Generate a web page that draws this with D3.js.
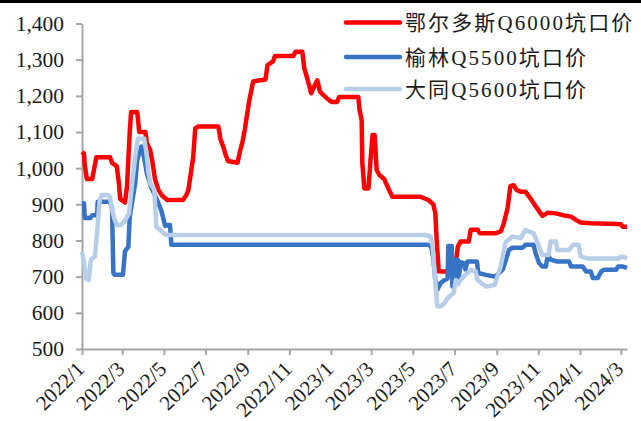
<!DOCTYPE html>
<html>
<head>
<meta charset="utf-8">
<script src="https://cdn.jsdelivr.net/npm/d3@7"></script>
<style>
body { margin: 0; background: #fff; }
svg text { font-family: "Liberation Serif", "Noto Sans CJK SC", serif; fill: #1a1a1a; }
</style>
</head>
<body>
<svg id="chart" width="641" height="421"></svg>
<script>
// 鄂尔多斯Q6000坑口价
var ordosDates = ["2022-01-01","2022-01-04","2022-01-05","2022-01-08","2022-01-16","2022-01-19","2022-01-22","2022-02-11","2022-02-14","2022-02-21","2022-02-24","2022-02-26","2022-03-05","2022-03-08","2022-03-12","2022-03-14","2022-03-23","2022-03-26","2022-04-04","2022-04-06","2022-04-11","2022-04-14","2022-04-18","2022-04-23","2022-04-28","2022-05-06","2022-05-29","2022-06-03","2022-06-06","2022-06-13","2022-06-16","2022-06-20","2022-07-20","2022-07-23","2022-07-27","2022-07-30","2022-08-03","2022-08-17","2022-08-21","2022-08-24","2022-08-28","2022-09-03","2022-09-09","2022-09-27","2022-09-30","2022-10-08","2022-10-11","2022-11-07","2022-11-10","2022-11-20","2022-11-23","2022-11-27","2022-12-03","2022-12-06","2022-12-12","2022-12-16","2022-12-25","2023-01-02","2023-01-10","2023-01-13","2023-02-10","2023-02-12","2023-02-15","2023-02-16","2023-02-19","2023-02-25","2023-02-28","2023-03-03","2023-03-06","2023-03-09","2023-03-13","2023-03-20","2023-03-26","2023-04-01","2023-05-12","2023-05-24","2023-05-31","2023-06-03","2023-06-05","2023-06-08","2023-06-21","2023-07-03","2023-07-06","2023-07-10","2023-07-22","2023-07-25","2023-08-04","2023-08-07","2023-08-30","2023-09-07","2023-09-11","2023-09-17","2023-09-21","2023-09-26","2023-09-30","2023-10-06","2023-10-13","2023-10-21","2023-10-28","2023-11-07","2023-11-15","2023-11-27","2023-12-07","2023-12-19","2023-12-26","2024-01-02","2024-01-17","2024-02-15","2024-03-01","2024-03-04","2024-03-10"];
var ordosPrices = [1045,1040,1010,970,970,1000,1030,1030,1015,1005,960,915,905,950,1100,1155,1155,1100,1100,1070,1050,1020,970,940,925,912,912,925,940,1030,1110,1115,1115,1080,1060,1040,1020,1015,1050,1070,1110,1185,1240,1245,1285,1295,1310,1310,1322,1322,1275,1250,1207,1220,1243,1211,1195,1183,1183,1197,1197,1160,1133,1014,944,944,1022,1092,1092,995,981,970,945,921,921,912,900,875,800,714,714,738,783,797,797,830,830,820,820,825,845,890,950,953,940,935,935,915,895,868,877,875,870,866,857,850,848,846,845,838,838];

// 榆林Q5500坑口价
var yulinDates = ["2022-01-01","2022-01-04","2022-01-05","2022-01-13","2022-01-16","2022-01-23","2022-01-24","2022-02-11","2022-02-14","2022-02-16","2022-02-18","2022-03-02","2022-03-05","2022-03-10","2022-03-12","2022-03-20","2022-03-23","2022-03-29","2022-04-02","2022-04-06","2022-04-12","2022-04-21","2022-04-27","2022-05-03","2022-05-07","2022-05-10","2022-05-12","2023-05-24","2023-05-28","2023-05-31","2023-06-03","2023-06-06","2023-06-11","2023-06-17","2023-06-21","2023-06-22","2023-06-27","2023-06-28","2023-07-01","2023-07-03","2023-07-06","2023-07-07","2023-07-10","2023-07-14","2023-07-17","2023-07-20","2023-08-03","2023-08-05","2023-08-16","2023-08-30","2023-09-10","2023-09-19","2023-09-24","2023-10-09","2023-10-13","2023-10-25","2023-10-28","2023-11-02","2023-11-07","2023-11-12","2023-11-15","2023-11-19","2023-11-29","2023-12-16","2023-12-19","2024-01-05","2024-01-10","2024-01-17","2024-01-20","2024-01-27","2024-02-01","2024-02-05","2024-02-23","2024-02-26","2024-03-04","2024-03-10"];
var yulinPrices = [903,903,862,862,870,870,907,907,890,710,705,705,770,783,866,958,1023,1060,1030,987,949,912,885,840,843,843,788,788,783,750,691,664,683,691,695,785,785,673,673,747,747,690,740,738,720,742,742,710,705,700,720,774,780,780,788,788,765,738,728,728,760,747,742,742,728,728,714,714,696,696,714,719,719,728,728,724];

// 大同Q5600坑口价
var datongDates = ["2022-01-01","2022-01-04","2022-01-07","2022-01-11","2022-01-14","2022-01-20","2022-01-23","2022-01-27","2022-01-30","2022-02-08","2022-02-11","2022-02-14","2022-02-18","2022-02-21","2022-02-27","2022-03-04","2022-03-11","2022-03-15","2022-03-20","2022-03-24","2022-04-02","2022-04-05","2022-04-08","2022-04-11","2022-04-17","2022-04-20","2022-04-28","2022-05-04","2023-05-20","2023-05-27","2023-05-30","2023-06-02","2023-06-05","2023-06-06","2023-06-11","2023-06-17","2023-06-21","2023-06-30","2023-07-03","2023-07-07","2023-07-10","2023-07-17","2023-07-25","2023-08-01","2023-08-04","2023-08-16","2023-08-29","2023-09-02","2023-09-07","2023-09-14","2023-09-24","2023-10-06","2023-10-13","2023-10-25","2023-10-31","2023-11-07","2023-11-16","2023-11-19","2023-11-27","2023-11-29","2023-12-16","2023-12-22","2023-12-30","2024-01-02","2024-01-13","2024-02-27","2024-03-01","2024-03-05","2024-03-10"];
var datongPrices = [768,740,695,691,747,756,820,912,926,926,920,885,857,843,843,852,875,949,1032,1082,1082,1050,995,958,940,838,825,815,815,811,783,710,640,618,618,628,641,655,691,680,691,705,719,715,691,673,677,700,730,795,811,807,829,820,793,760,760,797,797,774,774,788,788,756,750,750,755,755,750];

var seriesNames = ["鄂尔多斯Q6000坑口价", "榆林Q5500坑口价", "大同Q5600坑口价"];
var seriesColors = ["#ff0000", "#3874c5", "#b8cde7"];
var yTicks = [500, 600, 700, 800, 900, 1000, 1100, 1200, 1300, 1400];
var xTickDates = ["2022-01-01","2022-03-01","2022-05-01","2022-07-01","2022-09-01","2022-11-01","2023-01-01","2023-03-01","2023-05-01","2023-07-01","2023-09-01","2023-11-01","2024-01-01","2024-03-01"];

var parse = d3.timeParse("%Y-%m-%d");
function pairs(dates, prices) {
    return dates.map(function (d, i) { return {date: parse(d), value: prices[i]}; });
}
var series = [pairs(ordosDates, ordosPrices), pairs(yulinDates, yulinPrices), pairs(datongDates, datongPrices)];

var svg = d3.select("#chart"),
    margin = {top: 23.5, right: 14, bottom: 72, left: 82},
    width = +svg.attr("width") - margin.left - margin.right,
    height = +svg.attr("height") - margin.top - margin.bottom;

// black rule along the top edge
svg.append("rect").attr("x", 0).attr("y", 0).attr("width", 641).attr("height", 3).attr("fill", "#000");

var x = d3.scaleTime()
    .domain([parse("2022-01-01"), parse("2024-03-10")])
    .range([0, width]);
var y = d3.scaleLinear()
    .domain([500, 1400])
    .range([height, 0]);

var g = svg.append("g")
    .attr("transform", "translate(" + margin.left + "," + margin.top + ")");

var xAxis = g.append("g")
    .attr("transform", "translate(0," + height + ")")
    .call(d3.axisBottom(x)
        .tickValues(xTickDates.map(parse))
        .tickFormat(d3.timeFormat("%Y/%-m"))
        .tickSize(6)
        .tickSizeOuter(0));
xAxis.selectAll("text")
    .attr("x", 0).attr("y", 0).attr("dy", "0.35em")
    .attr("text-anchor", "end")
    .attr("transform", "translate(-2,16) rotate(-45)")
    .style("font-size", "21px");

var yAxis = g.append("g")
    .call(d3.axisLeft(y)
        .tickValues(yTicks)
        .tickFormat(d3.format(","))
        .tickSize(6)
        .tickPadding(12)
        .tickSizeOuter(0));
yAxis.selectAll("text").style("font-size", "21.5px");

g.selectAll(".domain, .tick line").attr("stroke", "#a6a6a6").attr("stroke-width", 2);

var line = d3.line()
    .x(function (d) { return x(d.date); })
    .y(function (d) { return y(d.value); });

g.selectAll("path.series")
    .data(series)
    .enter().append("path")
    .attr("class", "series")
    .attr("fill", "none")
    .attr("stroke", function (d, i) { return seriesColors[i]; })
    .attr("stroke-width", 4.5)
    .attr("stroke-linejoin", "round")
    .attr("d", line);

// legend
var legend = svg.append("g").attr("transform", "translate(346,22.5)");
var item = legend.selectAll("g")
    .data(seriesNames)
    .enter().append("g")
    .attr("transform", function (d, i) { return "translate(0," + [0, 34.5, 66.5][i] + ")"; });
item.append("line")
    .attr("x1", 0).attr("x2", 54)
    .attr("stroke", function (d, i) { return seriesColors[i]; })
    .attr("stroke-width", 4.5)
    .attr("stroke-linecap", "round");
item.append("text")
    .attr("x", 59).attr("dy", "0.36em")
    .style("font-size", "21px")
    .style("letter-spacing", "2.1px")
    .text(function (d) { return d; });
</script>
</body>
</html>
